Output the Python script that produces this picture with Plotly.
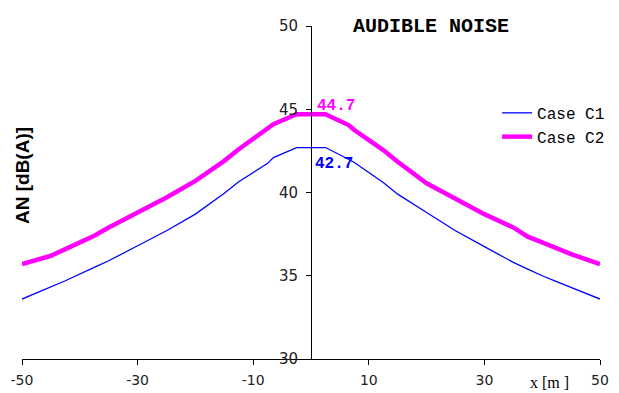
import plotly.graph_objects as go

# Data
x_m = [-50, -45, -42.5, -37.5, -35, -30, -25, -20, -15, -12.5, -7.5, -6.5, -2.5, 0,
       2.5, 6.5, 7.5, 12.5, 15, 20, 25, 30, 35, 37.5, 40, 42.5, 45, 50]
case_c1 = [33.6, 34.35, 34.7, 35.5, 35.9, 36.8, 37.7, 38.7, 39.95, 40.65, 41.75, 42.1, 42.7, 42.7,
           42.7, 42.0, 41.8, 40.6, 39.9, 38.8, 37.7, 36.75, 35.8, 35.4, 35.0, 34.65, 34.3, 33.6]
case_c2 = [35.7, 36.2, 36.6, 37.4, 37.9, 38.8, 39.7, 40.7, 41.9, 42.6, 43.8, 44.1, 44.7, 44.7,
           44.7, 44.05, 43.75, 42.55, 41.85, 40.55, 39.6, 38.7, 37.9, 37.35, 37.0, 36.65, 36.3, 35.7]
series_names = ["Case C1", "Case C2"]
x_tick_vals = [-50, -30, -10, 10, 30, 50]
x_tick_text = ["-50", "-30", "-10", "10", "30", "50"]
y_tick_vals = [30, 35, 40, 45, 50]
peak_c1 = 42.7
peak_c2 = 44.7

fig = go.Figure()
fig.add_trace(go.Scatter(x=x_m, y=case_c1, mode="lines", name=series_names[0],
                         line=dict(color="#0000FF", width=1.3)))
fig.add_trace(go.Scatter(x=x_m, y=case_c2, mode="lines", name=series_names[1],
                         line=dict(color="#FF00FF", width=4.5)))

# The page body has an 8px margin, so the figure is sized/offset to compensate.
fig.update_layout(
    width=611, height=385,
    margin=dict(l=14, r=19, t=18, b=34, autoexpand=False),
    paper_bgcolor="white", plot_bgcolor="white",
    showlegend=True,
    legend=dict(x=0.822, y=0.79, xanchor="left", yanchor="top",
                font=dict(family="Liberation Mono", size=16, color="black"),
                bgcolor="rgba(0,0,0,0)", tracegroupgap=0),
    xaxis=dict(range=[-50, 50], tickvals=x_tick_vals, ticktext=x_tick_text,
               automargin=False,
               showgrid=False, zeroline=False, showline=True, linecolor="black", linewidth=1,
               ticks="outside", ticklen=5, tickcolor="black", ticklabelstandoff=3,
               tickfont=dict(family="DejaVu Sans", size=14, color="#222")),
    yaxis=dict(range=[30, 50], tickvals=y_tick_vals, automargin=False,
               showgrid=False, zeroline=False, showline=True, linecolor="black", linewidth=1,
               anchor="free", position=0.5,
               ticks="outside", ticklen=5, tickcolor="black", ticklabelstandoff=5,
               tickfont=dict(family="DejaVu Sans", size=15, color="#222")),
)

fig.add_annotation(x=0, y=peak_c2, xref="x", yref="y", text=f"<b>{peak_c2:.1f}</b>",
                   showarrow=False, xanchor="left", yanchor="middle", xshift=4, yshift=8,
                   font=dict(family="Liberation Mono", size=16, color="#FF00FF"))
fig.add_annotation(x=0, y=peak_c1, xref="x", yref="y", text=f"<b>{peak_c1:.1f}</b>",
                   showarrow=False, xanchor="left", yanchor="middle", xshift=2, yshift=-16,
                   font=dict(family="Liberation Mono", size=16, color="#0000FF"))
fig.add_annotation(x=0.708, y=1.0, xref="paper", yref="paper", text="<b>AUDIBLE NOISE</b>",
                   showarrow=False, xanchor="center", yanchor="middle",
                   font=dict(family="Liberation Mono", size=20, color="black"))
fig.add_annotation(x=0.002, y=0.55, xref="paper", yref="paper", text="<b>AN [dB(A)]</b>",
                   showarrow=False, textangle=-90, xanchor="center", yanchor="middle",
                   font=dict(family="Liberation Sans", size=19, color="black"))
fig.add_annotation(x=0.913, y=-0.072, xref="paper", yref="paper", text="x [m ]",
                   showarrow=False, xanchor="center", yanchor="middle",
                   font=dict(family="Liberation Serif", size=16, color="black"))

fig.write_html("out.html")
